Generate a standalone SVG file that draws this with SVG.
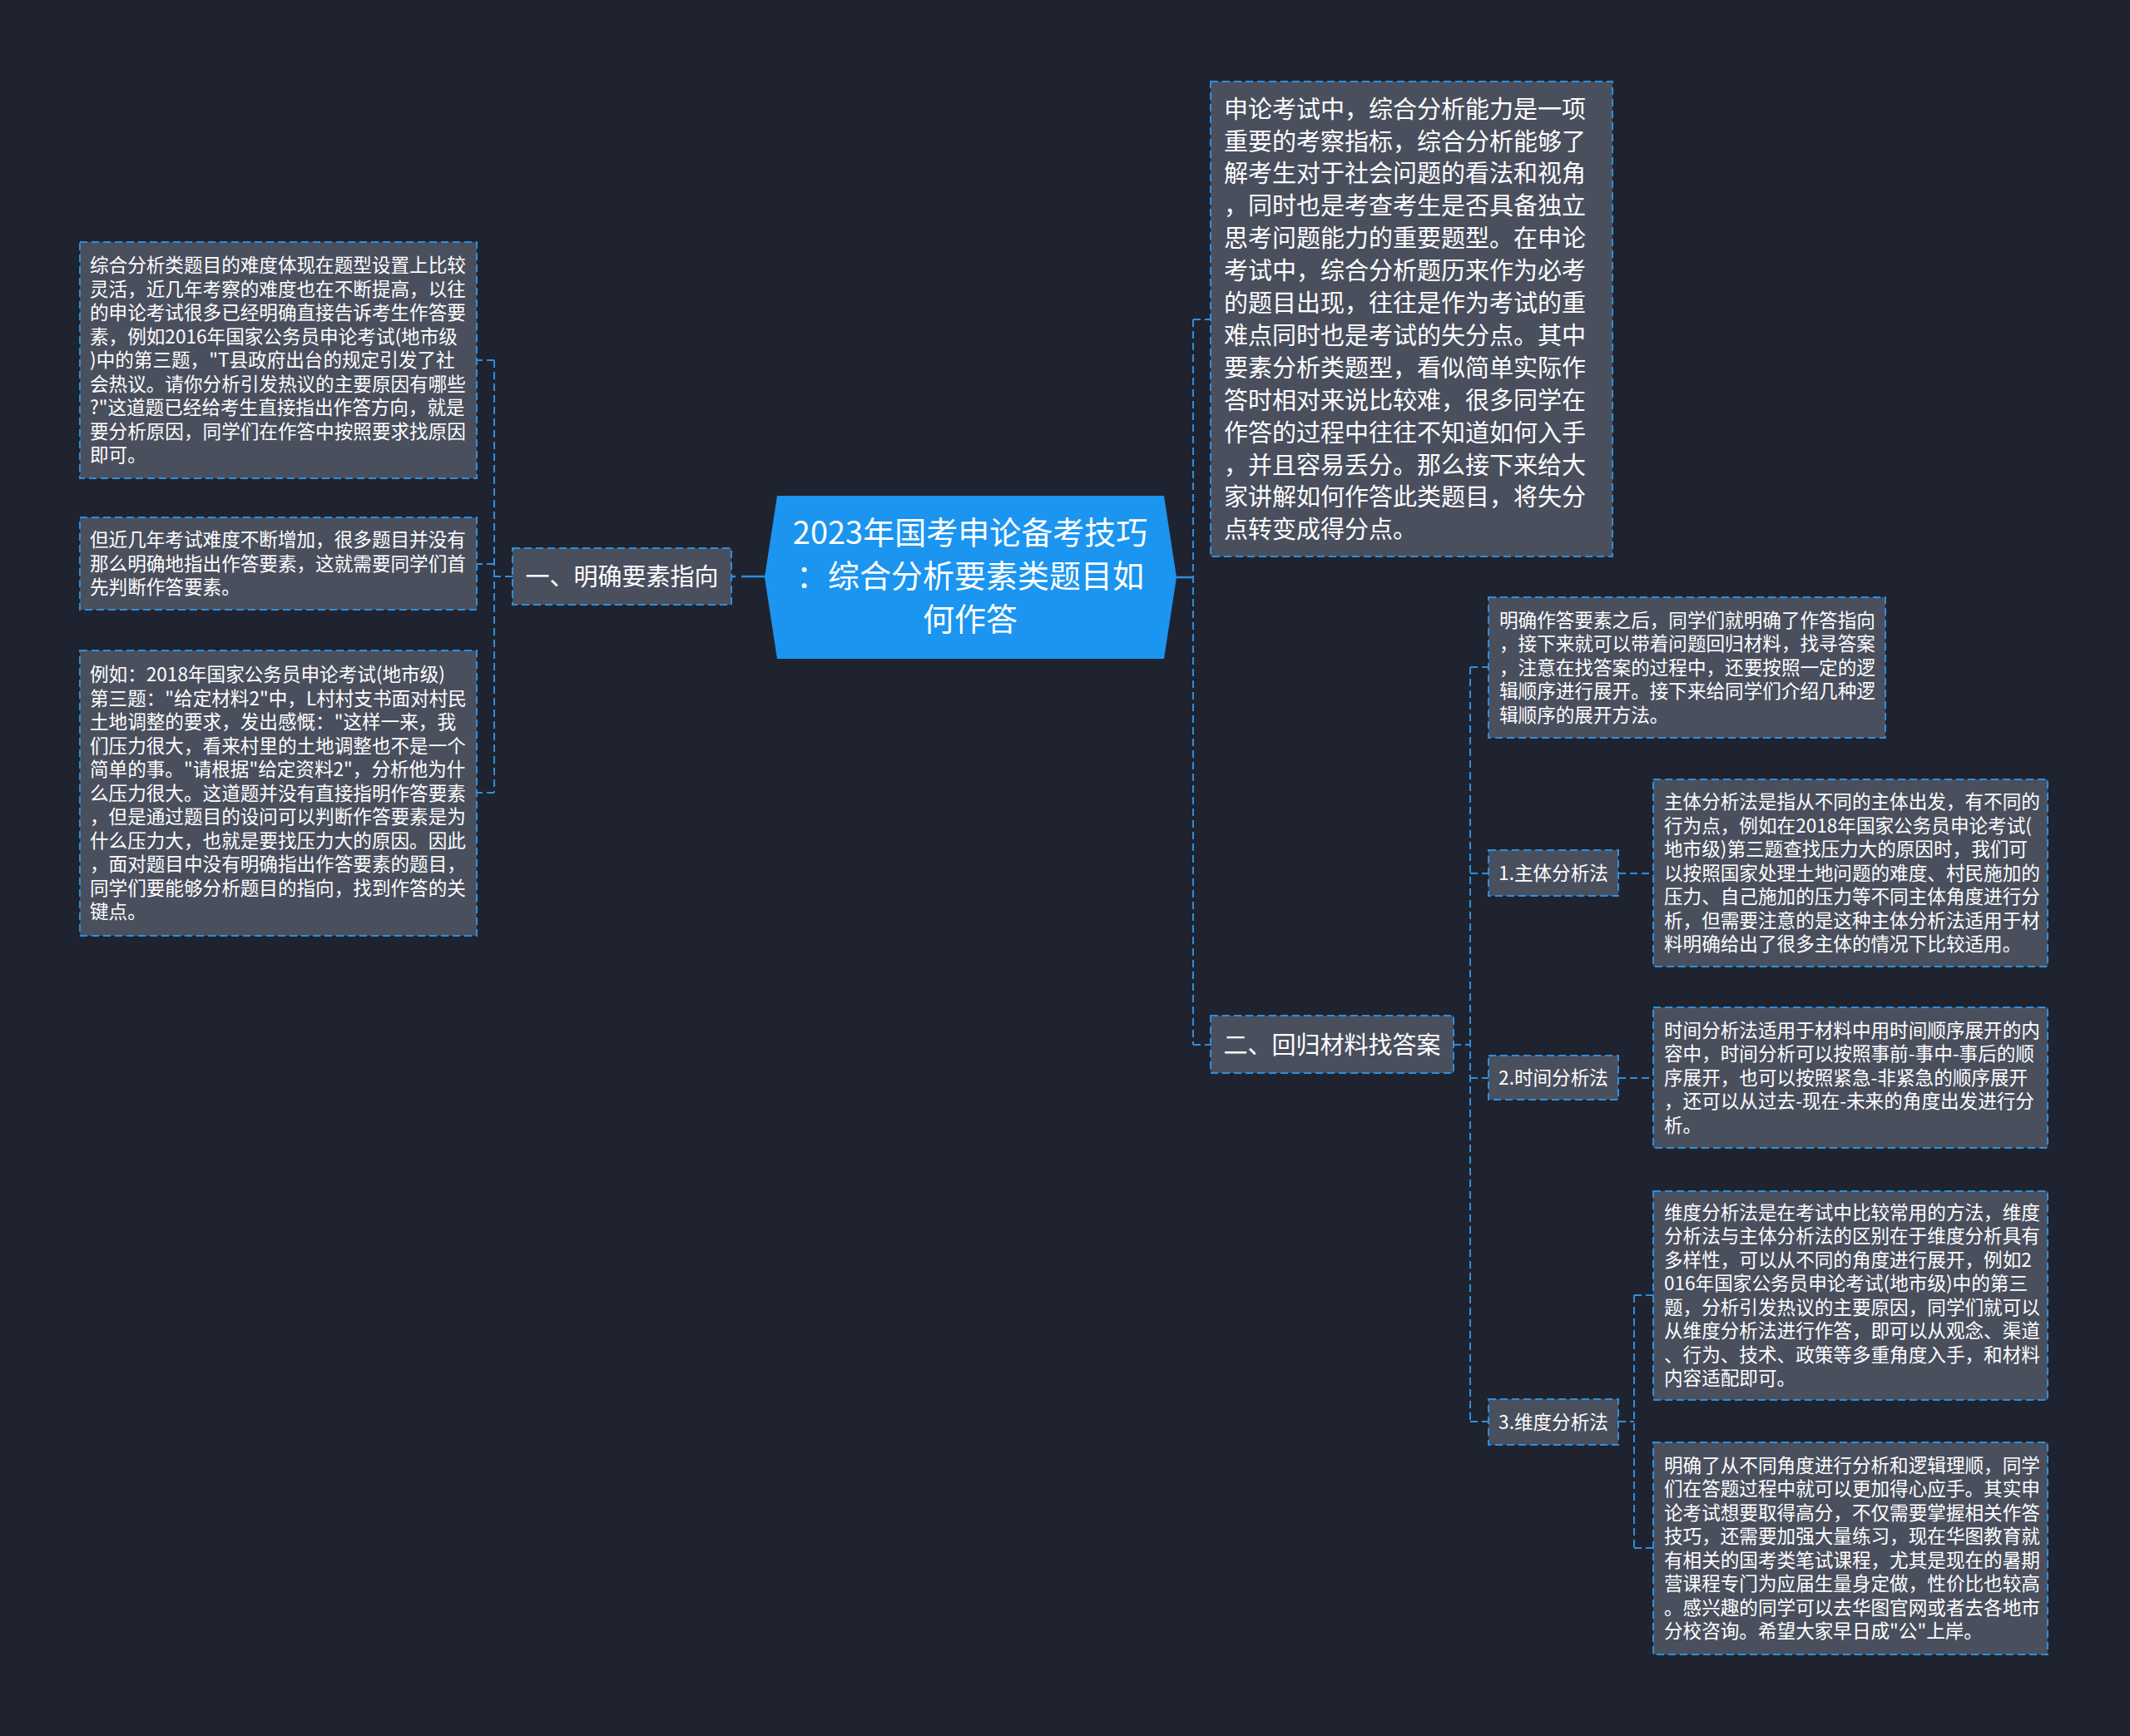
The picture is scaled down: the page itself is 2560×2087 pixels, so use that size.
<svg xmlns="http://www.w3.org/2000/svg" width="2560" height="2087" viewBox="0 0 2560 2087">
<style>
.bg{fill:#1f2330}
.box{fill:#4a4f5e;stroke:#2b8fdf;stroke-width:2;stroke-dasharray:9 5}
.root{fill:#1b95ef}
.t{font-family:"Noto Sans CJK SC","Noto Sans",sans-serif;fill:#ffffff}
.s{font-size:22.6px}
.m{font-size:29px}
.r{font-size:38px;text-anchor:middle}
.c{text-anchor:middle}
.ln{fill:none;stroke:#2b8fdf;stroke-width:2;stroke-dasharray:9 5}
.sol{fill:none;stroke:#2b8fdf;stroke-width:2.5}
</style>
<rect class="bg" x="0" y="0" width="2560" height="2087"/>
<g id="connectors">
  <path class="sol" d="M919 693 H891"/>
  <path class="sol" d="M884 693 H878"/>
  <path class="ln" d="M616 693 H594 M594 433 V953 M594 433 H574 M594 678 H574 M594 953 H574"/>
  <path class="sol" d="M1414 694 H1434"/>
  <path class="ln" d="M1434 384 V1256 M1434 384 H1455 M1434 1256 H1455"/>
  <path class="ln" d="M1747 1256 H1767 M1767 802 V1709 M1767 802 H1789 M1767 1050 H1789 M1767 1296 H1789 M1767 1709 H1789"/>
  <path class="ln" d="M1945 1050 H1987 M1945 1296 H1987"/>
  <path class="ln" d="M1945 1709 H1964 M1964 1557 V1861 M1964 1557 H1987 M1964 1861 H1987"/>
</g>
<g id="root">
  <polygon class="root" points="919,694 934,596 1399,596 1414,694 1399,792 934,792"/>
  <text class="t r"><tspan x="1166" y="654">2023年国考申论备考技巧</tspan><tspan x="1166" y="706">：综合分析要素类题目如</tspan><tspan x="1166" y="758">何作答</tspan></text>
</g>
<g id="node-1">
  <rect class="box" x="616" y="659" width="263" height="68"/>
  <text class="t m c" x="747.5" y="704">一、明确要素指向</text>
</g>
<g id="node-1-1">
  <rect class="box" x="96" y="291" width="477" height="284"/>
  <text class="t s">
    <tspan x="108" y="327">综合分析类题目的难度体现在题型设置上比较</tspan>
    <tspan x="108" y="355.5">灵活，近几年考察的难度也在不断提高，以往</tspan>
    <tspan x="108" y="384">的申论考试很多已经明确直接告诉考生作答要</tspan>
    <tspan x="108" y="412.5">素，例如2016年国家公务员申论考试(地市级</tspan>
    <tspan x="108" y="441">)中的第三题，"T县政府出台的规定引发了社</tspan>
    <tspan x="108" y="469.5">会热议。请你分析引发热议的主要原因有哪些</tspan>
    <tspan x="108" y="498">?"这道题已经给考生直接指出作答方向，就是</tspan>
    <tspan x="108" y="526.5">要分析原因，同学们在作答中按照要求找原因</tspan>
    <tspan x="108" y="555">即可。</tspan>
  </text>
</g>
<g id="node-1-2">
  <rect class="box" x="96" y="622" width="477" height="111"/>
  <text class="t s">
    <tspan x="108" y="657">但近几年考试难度不断增加，很多题目并没有</tspan>
    <tspan x="108" y="685.5">那么明确地指出作答要素，这就需要同学们首</tspan>
    <tspan x="108" y="714">先判断作答要素。</tspan>
  </text>
</g>
<g id="node-1-3">
  <rect class="box" x="96" y="782" width="477" height="343"/>
  <text class="t s">
    <tspan x="108" y="819">例如：2018年国家公务员申论考试(地市级)</tspan>
    <tspan x="108" y="847.5">第三题："给定材料2"中，L村村支书面对村民</tspan>
    <tspan x="108" y="876">土地调整的要求，发出感慨："这样一来，我</tspan>
    <tspan x="108" y="904.5">们压力很大，看来村里的土地调整也不是一个</tspan>
    <tspan x="108" y="933">简单的事。"请根据"给定资料2"，分析他为什</tspan>
    <tspan x="108" y="961.5">么压力很大。这道题并没有直接指明作答要素</tspan>
    <tspan x="108" y="990">，但是通过题目的设问可以判断作答要素是为</tspan>
    <tspan x="108" y="1018.5">什么压力大，也就是要找压力大的原因。因此</tspan>
    <tspan x="108" y="1047">，面对题目中没有明确指出作答要素的题目，</tspan>
    <tspan x="108" y="1075.5">同学们要能够分析题目的指向，找到作答的关</tspan>
    <tspan x="108" y="1104">键点。</tspan>
  </text>
</g>
<g id="node-intro">
  <rect class="box" x="1455" y="98" width="483" height="571"/>
  <text class="t m">
    <tspan x="1471" y="141.6">申论考试中，综合分析能力是一项</tspan>
    <tspan x="1471" y="180.5">重要的考察指标，综合分析能够了</tspan>
    <tspan x="1471" y="219.4">解考生对于社会问题的看法和视角</tspan>
    <tspan x="1471" y="258.3">，同时也是考查考生是否具备独立</tspan>
    <tspan x="1471" y="297.2">思考问题能力的重要题型。在申论</tspan>
    <tspan x="1471" y="336.1">考试中，综合分析题历来作为必考</tspan>
    <tspan x="1471" y="375">的题目出现，往往是作为考试的重</tspan>
    <tspan x="1471" y="413.9">难点同时也是考试的失分点。其中</tspan>
    <tspan x="1471" y="452.8">要素分析类题型，看似简单实际作</tspan>
    <tspan x="1471" y="491.7">答时相对来说比较难，很多同学在</tspan>
    <tspan x="1471" y="530.6">作答的过程中往往不知道如何入手</tspan>
    <tspan x="1471" y="569.5">，并且容易丢分。那么接下来给大</tspan>
    <tspan x="1471" y="608.4">家讲解如何作答此类题目，将失分</tspan>
    <tspan x="1471" y="647.3">点转变成得分点。</tspan>
  </text>
</g>
<g id="node-2">
  <rect class="box" x="1455" y="1221" width="292" height="69"/>
  <text class="t m c" x="1601" y="1266.5">二、回归材料找答案</text>
</g>
<g id="node-2-0">
  <rect class="box" x="1789" y="718" width="477" height="169"/>
  <text class="t s">
    <tspan x="1802" y="753.5">明确作答要素之后，同学们就明确了作答指向</tspan>
    <tspan x="1802" y="782">，接下来就可以带着问题回归材料，找寻答案</tspan>
    <tspan x="1802" y="810.5">，注意在找答案的过程中，还要按照一定的逻</tspan>
    <tspan x="1802" y="839">辑顺序进行展开。接下来给同学们介绍几种逻</tspan>
    <tspan x="1802" y="867.5">辑顺序的展开方法。</tspan>
  </text>
</g>
<g id="node-2-1">
  <rect class="box" x="1789" y="1022" width="156" height="55"/>
  <text class="t s c" x="1867" y="1058">1.主体分析法</text>
</g>
<g id="node-2-1-1">
  <rect class="box" x="1987" y="937" width="474" height="225"/>
  <text class="t s">
    <tspan x="2000" y="972">主体分析法是指从不同的主体出发，有不同的</tspan>
    <tspan x="2000" y="1000.5">行为点，例如在2018年国家公务员申论考试(</tspan>
    <tspan x="2000" y="1029">地市级)第三题查找压力大的原因时，我们可</tspan>
    <tspan x="2000" y="1057.5">以按照国家处理土地问题的难度、村民施加的</tspan>
    <tspan x="2000" y="1086">压力、自己施加的压力等不同主体角度进行分</tspan>
    <tspan x="2000" y="1114.5">析，但需要注意的是这种主体分析法适用于材</tspan>
    <tspan x="2000" y="1143">料明确给出了很多主体的情况下比较适用。</tspan>
  </text>
</g>
<g id="node-2-2">
  <rect class="box" x="1789" y="1269" width="156" height="53"/>
  <text class="t s c" x="1867" y="1304">2.时间分析法</text>
</g>
<g id="node-2-2-1">
  <rect class="box" x="1987" y="1211" width="474" height="169"/>
  <text class="t s">
    <tspan x="2000" y="1246.5">时间分析法适用于材料中用时间顺序展开的内</tspan>
    <tspan x="2000" y="1275">容中，时间分析可以按照事前-事中-事后的顺</tspan>
    <tspan x="2000" y="1303.5">序展开，也可以按照紧急-非紧急的顺序展开</tspan>
    <tspan x="2000" y="1332">，还可以从过去-现在-未来的角度出发进行分</tspan>
    <tspan x="2000" y="1360.5">析。</tspan>
  </text>
</g>
<g id="node-2-3">
  <rect class="box" x="1789" y="1682" width="156" height="55"/>
  <text class="t s c" x="1867" y="1718">3.维度分析法</text>
</g>
<g id="node-2-3-1">
  <rect class="box" x="1987" y="1432" width="474" height="251"/>
  <text class="t s">
    <tspan x="2000" y="1465.8">维度分析法是在考试中比较常用的方法，维度</tspan>
    <tspan x="2000" y="1494.3">分析法与主体分析法的区别在于维度分析具有</tspan>
    <tspan x="2000" y="1522.8">多样性，可以从不同的角度进行展开，例如2</tspan>
    <tspan x="2000" y="1551.3">016年国家公务员申论考试(地市级)中的第三</tspan>
    <tspan x="2000" y="1579.8">题，分析引发热议的主要原因，同学们就可以</tspan>
    <tspan x="2000" y="1608.3">从维度分析法进行作答，即可以从观念、渠道</tspan>
    <tspan x="2000" y="1636.8">、行为、技术、政策等多重角度入手，和材料</tspan>
    <tspan x="2000" y="1665.3">内容适配即可。</tspan>
  </text>
</g>
<g id="node-2-3-2">
  <rect class="box" x="1987" y="1734" width="474" height="255"/>
  <text class="t s">
    <tspan x="2000" y="1769.8">明确了从不同角度进行分析和逻辑理顺，同学</tspan>
    <tspan x="2000" y="1798.3">们在答题过程中就可以更加得心应手。其实申</tspan>
    <tspan x="2000" y="1826.8">论考试想要取得高分，不仅需要掌握相关作答</tspan>
    <tspan x="2000" y="1855.3">技巧，还需要加强大量练习，现在华图教育就</tspan>
    <tspan x="2000" y="1883.8">有相关的国考类笔试课程，尤其是现在的暑期</tspan>
    <tspan x="2000" y="1912.3">营课程专门为应届生量身定做，性价比也较高</tspan>
    <tspan x="2000" y="1940.8">。感兴趣的同学可以去华图官网或者去各地市</tspan>
    <tspan x="2000" y="1969.3">分校咨询。希望大家早日成"公"上岸。</tspan>
  </text>
</g>
</svg>
